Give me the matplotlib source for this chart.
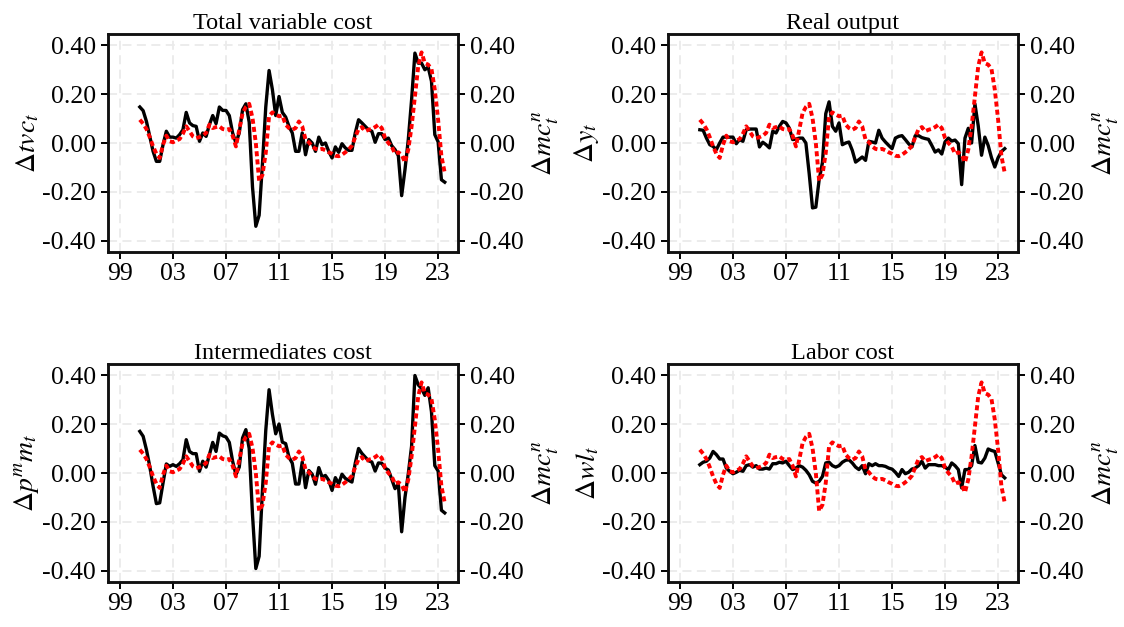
import numpy as np
import matplotlib
matplotlib.use("Agg")
import matplotlib.pyplot as plt

plt.rcParams['font.family'] = 'serif'
plt.rcParams['font.serif'] = ['Liberation Serif', 'DejaVu Serif']
plt.rcParams['mathtext.fontset'] = 'stix'
plt.rcParams['axes.unicode_minus'] = False

# quarterly sample, 2000Q3 - 2023Q3
start_year = 2000.5
n_quarters = 93
dates = start_year + 0.25 * np.arange(n_quarters)

# nominal marginal cost growth (red dotted, right axis, same in every panel)
mc_n = [0.095, 0.079, 0.057, 0.024, -0.014, -0.044, -0.061, -0.007, 0.030, 0.007,
        0.003, 0.010, 0.016, 0.038, 0.068, 0.048, 0.027, 0.020, 0.024, 0.030,
        0.041, 0.075, 0.061, 0.065, 0.068, 0.057, 0.054, 0.057, 0.030, -0.014,
        0.054, 0.122, 0.147, 0.160, 0.102, 0.000, -0.155, -0.130, -0.040, 0.110,
        0.125, 0.116, 0.109, 0.112, 0.075, 0.061, 0.054, 0.061, 0.088, 0.068,
        0.014, 0.003, -0.014, -0.024, -0.027, -0.024, -0.030, -0.038, -0.044, -0.052,
        -0.054, -0.048, -0.038, -0.027, -0.011, 0.024, 0.057, 0.065, 0.048, 0.054,
        0.058, 0.065, 0.075, 0.061, 0.020, 0.000, -0.014, -0.044, -0.038, -0.048,
        -0.079, -0.027, 0.068, 0.190, 0.313, 0.370, 0.326, 0.320, 0.302, 0.218,
        0.095, -0.054, -0.122]

tvc = [0.147, 0.132, 0.088, 0.027, -0.034, -0.075, -0.075, -0.007, 0.048, 0.024,
       0.024, 0.020, 0.034, 0.054, 0.125, 0.082, 0.071, 0.068, 0.007, 0.041,
       0.027, 0.075, 0.112, 0.079, 0.147, 0.133, 0.133, 0.112, 0.041, 0.000,
       0.041, 0.136, 0.160, 0.085, -0.180, -0.340, -0.295, -0.085, 0.147, 0.296,
       0.218, 0.112, 0.190, 0.125, 0.106, 0.068, 0.041, -0.034, -0.034, 0.041,
       -0.048, 0.014, 0.000, -0.034, 0.024, -0.007, 0.000, -0.034, -0.061, -0.016,
       -0.038, -0.003, -0.020, -0.030, -0.030, 0.041, 0.095, 0.082, 0.068, 0.054,
       0.048, 0.003, 0.038, 0.038, 0.014, 0.020, -0.011, -0.027, -0.052, -0.215,
       -0.109, 0.014, 0.177, 0.367, 0.326, 0.326, 0.299, 0.310, 0.252, 0.034,
       0.005, -0.150, -0.160]

real_y = [0.054, 0.052, 0.020, -0.007, -0.014, -0.027, 0.000, 0.024, 0.024, 0.024,
          0.024, -0.003, 0.014, 0.007, 0.054, 0.057, 0.057, 0.057, -0.016, 0.003,
          -0.007, -0.020, 0.048, 0.041, 0.068, 0.088, 0.082, 0.061, 0.014, 0.016,
          0.020, 0.020, 0.000, -0.125, -0.265, -0.262, -0.150, -0.080, 0.120, 0.168,
          0.068, 0.048, 0.082, -0.007, 0.000, 0.004, -0.030, -0.078, -0.068, -0.057,
          -0.071, 0.007, 0.004, 0.000, 0.052, 0.020, 0.004, -0.010, -0.023, 0.020,
          0.027, 0.030, 0.014, -0.003, -0.016, 0.030, 0.030, 0.022, 0.018, 0.015,
          -0.010, -0.037, -0.028, -0.045, 0.005, 0.020, 0.008, 0.012, -0.003, -0.170,
          0.020, 0.060, 0.000, 0.160, 0.070, -0.050, 0.024, -0.010, -0.060, -0.098,
          -0.060, -0.035, -0.023]

pm_m = [0.170, 0.150, 0.095, 0.027, -0.054, -0.125, -0.122, -0.041, 0.037, 0.027,
        0.034, 0.027, 0.038, 0.054, 0.136, 0.088, 0.079, 0.079, 0.007, 0.048,
        0.024, 0.075, 0.125, 0.088, 0.163, 0.152, 0.147, 0.125, 0.048, -0.007,
        0.024, 0.143, 0.177, 0.100, -0.170, -0.390, -0.340, -0.070, 0.174, 0.340,
        0.240, 0.160, 0.200, 0.126, 0.120, 0.065, 0.040, -0.045, -0.045, 0.045,
        -0.060, 0.010, -0.005, -0.046, 0.022, -0.016, -0.010, -0.030, -0.071, -0.019,
        -0.044, -0.005, -0.022, -0.030, -0.037, 0.040, 0.100, 0.080, 0.065, 0.050,
        0.045, 0.008, 0.041, 0.040, 0.020, 0.012, -0.025, -0.064, -0.045, -0.240,
        -0.100, -0.003, 0.110, 0.398, 0.360, 0.345, 0.317, 0.348, 0.250, 0.030,
        0.008, -0.152, -0.163]

wl = [0.034, 0.044, 0.048, 0.061, 0.088, 0.075, 0.057, 0.057, 0.020, 0.007,
      -0.003, 0.003, 0.011, 0.007, 0.030, 0.034, 0.024, 0.030, 0.016, 0.016,
      0.020, 0.016, 0.038, 0.038, 0.044, 0.041, 0.048, 0.030, 0.014, 0.020,
      0.030, 0.024, 0.011, -0.007, -0.034, -0.041, -0.034, -0.014, 0.041, 0.044,
      0.030, 0.024, 0.030, 0.044, 0.052, 0.054, 0.041, 0.024, 0.014, 0.030,
      -0.003, 0.038, 0.030, 0.038, 0.030, 0.030, 0.027, 0.020, 0.016, 0.003,
      -0.014, 0.014, -0.003, 0.003, 0.016, 0.020, 0.030, 0.048, 0.020, 0.034,
      0.034, 0.034, 0.030, 0.030, 0.024, 0.014, 0.041, 0.030, 0.014, -0.061,
      0.014, 0.014, 0.030, 0.112, 0.044, 0.041, 0.061, 0.098, 0.092, 0.088,
      0.041, -0.007, -0.020]

titles = ['Total variable cost', 'Real output', 'Intermediates cost', 'Labor cost']
left_labels = [r'$\Delta tvc_t$', r'$\Delta y_t$', r'$\Delta p^m m_t$', r'$\Delta wl_t$']
right_label = r'$\Delta mc^n_t$'
series = [tvc, real_y, pm_m, wl]

x_ticks = [1999, 2003, 2007, 2011, 2015, 2019, 2023]
x_ticklabels = ['99', '03', '07', '11', '15', '19', '23']
y_ticks = [-0.4, -0.2, 0.0, 0.2, 0.4]
y_ticklabels = ['%.2f' % v for v in y_ticks]

fig = plt.figure(figsize=(11.24, 6.27), dpi=100)
W, H = 1124.0, 627.0
# panel boxes in pixels: (left, top)
boxes = [(108, 34), (668, 34), (108, 364), (668, 364)]
pw, ph = 350, 218

for k in range(4):
    l, t = boxes[k]
    ax = fig.add_axes([l / W, 1 - (t + ph) / H, pw / W, ph / H])
    ax2 = ax.twinx()

    ax.grid(True, color='#ebebeb', linestyle=(0, (5, 3)), linewidth=1.3)
    ax.set_axisbelow(True)
    ax.plot(dates, series[k], color='black', linewidth=2.4, solid_joinstyle='round')
    ax2.plot(dates, mc_n, color='#ff0000', linewidth=2.8, linestyle=(0, (1.3, 0.8)))

    for a in (ax, ax2):
        a.set_xlim(1998.1, 2024.5)
        a.set_ylim(-0.445, 0.445)
        a.set_yticks(y_ticks)
        a.set_yticklabels(y_ticklabels)
        a.tick_params(axis='both', labelsize=18.5, length=5, width=1.4, direction='out')
        for s in a.spines.values():
            s.set_linewidth(1.8)
            s.set_color('#111111')
    ax.set_xticks(x_ticks)
    ax.set_xticklabels(x_ticklabels)
    ax.tick_params(axis='x', pad=3)

    ax.set_title(titles[k], fontsize=17.5, pad=3)
    ax.set_ylabel(left_labels[k], fontsize=20, labelpad=1)
    ax2.set_ylabel(right_label, fontsize=20, labelpad=5)

fig.savefig('out.png', dpi=100)
